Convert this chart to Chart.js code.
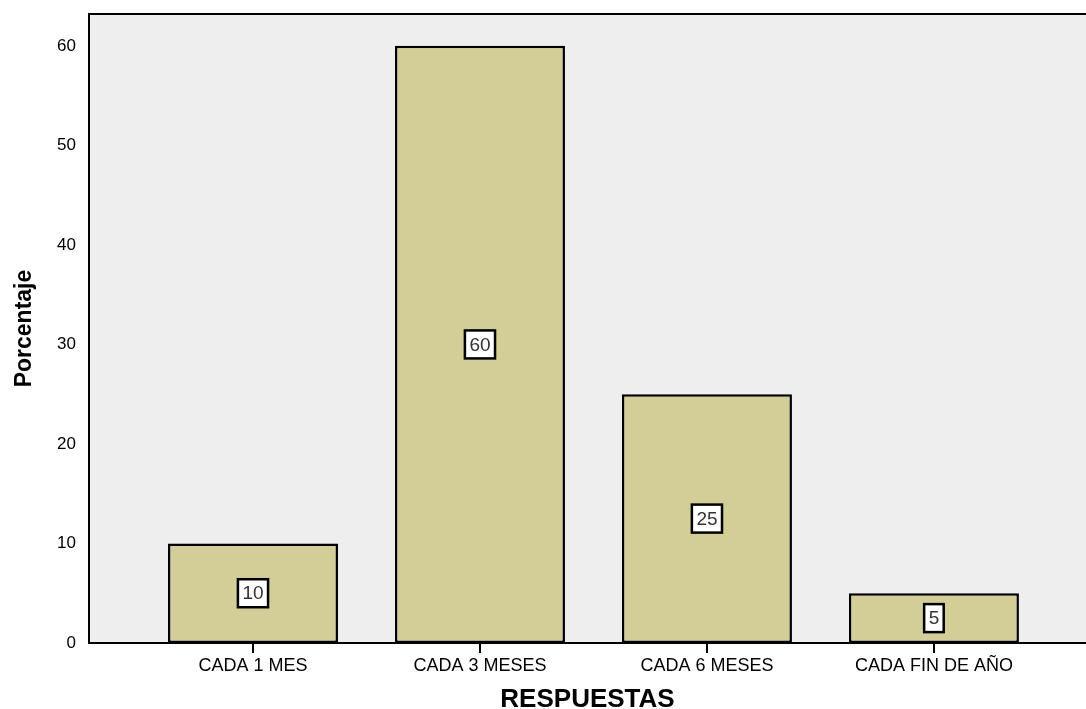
<!DOCTYPE html>
<html lang="es">
<head>
  <meta charset="UTF-8" />
  <title>Porcentaje por respuesta</title>
  <script src="https://cdn.jsdelivr.net/npm/chart.js"></script>
  <style>
    body {
      margin: 0;
      background: #fff;
    }
    #wrap {
      width: 1086px;
      height: 709px;
    }
  </style>
</head>
<body>
  <div id="wrap">
    <canvas id="chart" width="1086" height="709"></canvas>
  </div>

  <script>
    const categories = ["CADA 1 MES", "CADA 3 MESES", "CADA 6 MESES", "CADA FIN DE AÑO"];
    const porcentajes = [10, 60, 25, 5];
    const yTicks = [0, 10, 20, 30, 40, 50, 60];

    const FONT = "'Liberation Sans', Arial, sans-serif";

    // grey plot background plus the top frame line
    const plotFrame = {
      id: "plotFrame",
      beforeDraw(chart) {
        const { ctx, chartArea: a } = chart;
        ctx.save();
        ctx.fillStyle = "#eeeeee";
        ctx.fillRect(a.left, a.top, a.right - a.left, a.bottom - a.top);
        ctx.restore();
      },
      afterDraw(chart) {
        const { ctx, chartArea: a } = chart;
        ctx.save();
        ctx.strokeStyle = "#000";
        ctx.lineWidth = 2;
        ctx.beginPath();
        ctx.moveTo(a.left - 1, a.top);
        ctx.lineTo(a.right, a.top);
        ctx.stroke();
        ctx.restore();
      }
    };

    // boxed value labels in the middle of each bar
    const boxLabels = {
      id: "boxLabels",
      afterDatasetsDraw(chart) {
        const { ctx } = chart;
        const meta = chart.getDatasetMeta(0);
        const yScale = chart.scales.y;
        ctx.save();
        ctx.font = "19px " + FONT;
        ctx.textAlign = "center";
        ctx.textBaseline = "middle";
        meta.data.forEach((bar, i) => {
          const v = porcentajes[i];
          const txt = String(v);
          const cx = bar.x;
          const cy = yScale.getPixelForValue(v / 2);
          const w = ctx.measureText(txt).width + 9;
          const h = 28;
          ctx.fillStyle = "#fff";
          ctx.fillRect(cx - w / 2, cy - h / 2, w, h);
          ctx.strokeStyle = "#000";
          ctx.lineWidth = 2.5;
          ctx.strokeRect(cx - w / 2, cy - h / 2, w, h);
          ctx.fillStyle = "#333";
          ctx.fillText(txt, cx, cy + 1);
        });
        ctx.restore();
      }
    };

    const noPad = (s) => {
      s.paddingTop = 0;
      s.paddingBottom = 0;
      s.paddingLeft = 0;
      s.paddingRight = 0;
    };

    new Chart(document.getElementById("chart"), {
      type: "bar",
      data: {
        datasets: [{
          data: porcentajes.map((v, i) => ({ x: i + 1, y: v })),
          backgroundColor: "#d3ce98",
          borderColor: "#000",
          borderWidth: 2.5,
          borderSkipped: false,
          categoryPercentage: 1,
          barPercentage: 0.749
        }]
      },
      options: {
        responsive: false,
        animation: false,
        layout: { padding: { top: 14, right: 0, left: 0, bottom: 0 } },
        plugins: {
          legend: { display: false },
          tooltip: { enabled: false }
        },
        scales: {
          x: {
            type: "linear",
            offset: false,
            min: 0.2775,
            max: 4.67,
            afterBuildTicks: (s) => { s.ticks = categories.map((c, i) => ({ value: i + 1 })); },
            afterFit: (s) => { s.height = 66; noPad(s); },
            ticks: {
              callback: (v) => categories[v - 1] || "",
              color: "#000",
              padding: 2,
              maxRotation: 0,
              autoSkip: false,
              font: { family: FONT, size: 18 }
            },
            grid: {
              offset: false,
              drawOnChartArea: false,
              drawTicks: true,
              tickLength: 10,
              color: "#000",
              lineWidth: 2
            },
            border: { display: true, color: "#000", width: 2 },
            title: {
              display: true,
              text: "RESPUESTAS",
              color: "#000",
              font: { family: FONT, size: 26, weight: "bold", lineHeight: 0.7 },
              padding: { top: 0, bottom: 0 }
            }
          },
          y: {
            min: 0,
            max: 63.2,
            afterBuildTicks: (s) => { s.ticks = yTicks.map((v) => ({ value: v })); },
            afterFit: (s) => { s.width = 89; noPad(s); },
            ticks: {
              color: "#000",
              padding: 13,
              font: { family: FONT, size: 17 }
            },
            grid: { display: false, drawTicks: false },
            border: { display: true, color: "#000", width: 2 },
            title: {
              display: true,
              text: "Porcentaje",
              color: "#000",
              font: { family: FONT, size: 23, weight: "bold", lineHeight: 1 },
              padding: { top: 13, bottom: 0 }
            }
          }
        }
      },
      plugins: [plotFrame, boxLabels]
    });
  </script>
</body>
</html>
